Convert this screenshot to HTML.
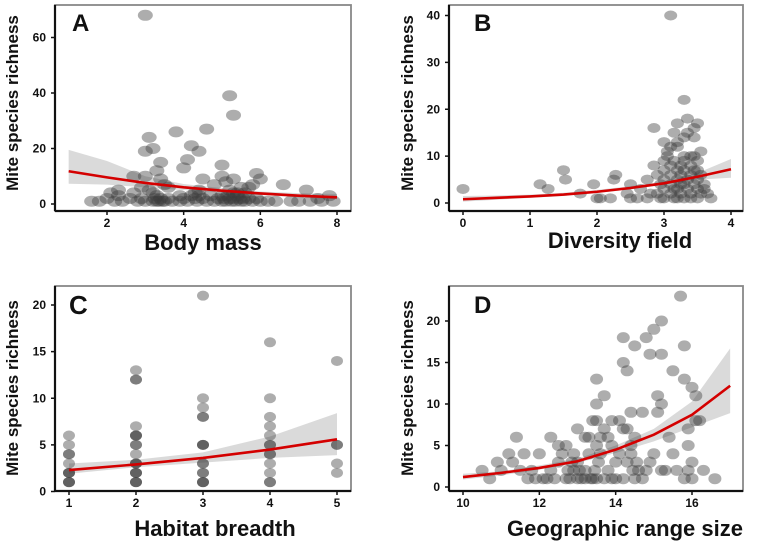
<!DOCTYPE html>
<html><head><meta charset="utf-8"><style>
body{margin:0;background:#fff;}
svg text{font-family:"Liberation Sans",sans-serif;font-weight:bold;fill:#111;}
</style></head><body>
<svg id="fig" width="760" height="542" viewBox="0 0 760 542" xmlns="http://www.w3.org/2000/svg"></svg>
<script>
// Panel A: body mass vs richness
const aPts=[[3,68],[5.2,39],[5.3,32],[4.6,27],[3.8,26],[3.1,24],[4.2,21],[3.2,20],[3,19],[4.4,19],[4.1,16],[3.4,15],[5,14],[4,13],[3.3,12],[5.9,11],[2.7,10],[3,10],[5,10],[5.3,9],[3.4,9],[4.5,9],[6,9],[5.8,7],[6.6,7],[2.9,6],[3.6,6],[4.8,7],[5.5,6],[2.3,5],[7.2,5],[4.4,5],[2.1,4],[2.7,4],[3.9,3],[4.3,4],[5.6,4],[7.8,3],[2.3,3],[5,3],[5.3,4],[3.1,5],[3.5,7],[5.1,8],[5.7,6],[1.6,1],[1.8,1],[2.0,2],[2.2,1],[2.4,1],[2.6,2],[2.8,1],[2.9,2],[3.0,1],[3.2,1],[3.25,2],[3.3,1],[3.35,1],[3.4,2],[3.45,1],[3.5,1],[3.6,2],[3.7,1],[3.9,1],[4.0,2],[4.1,1],[4.2,3],[4.3,2],[4.35,1],[4.5,2],[4.6,1],[4.7,3],[4.8,1],[4.9,2],[5.0,1],[5.05,2],[5.1,1],[5.15,3],[5.2,2],[5.25,1],[5.3,2],[5.35,1],[5.4,3],[5.45,2],[5.5,1],[5.55,2],[5.6,1],[5.7,2],[5.8,1],[5.9,2],[6.0,1],[6.2,1],[6.4,1],[6.8,1],[7.0,1],[7.3,1],[7.5,2],[7.6,1],[7.9,1],[3.3,3],[5.2,5],[5.4,4],[4.4,3],[3.2,4]];
const aFitX=[1,2,3,4,5,6,7,8];
const aFitY=[11.8,9.6,7.6,6.0,4.8,3.8,3.0,2.4];
const aLo=[7.3,7.0,6.0,5.0,4.1,3.2,2.4,1.7];
const aHi=[19.5,15.5,10.0,7.2,5.7,4.5,3.9,3.6];
const aXTicks=[2,4,6,8];
const aYTicks=[0,20,40,60];
// Panel B: diversity field
const bPts=[[0,3],[1.15,4],[1.27,3],[1.5,7],[1.53,5],[1.75,2],[1.95,4],[2,1],[2.05,1],[2.2,1],[2.25,5],[2.28,6],[2.5,4],[2.45,2],[2.5,1],[2.6,1],[2.65,3],[2.75,5],[2.8,2],[3.1,40],[3.3,22],[2.85,16],[3.2,17],[3.35,18],[3.45,16],[3.5,17],[3.15,15],[3.3,14],[3.45,14],[3,13],[3.1,12],[3.2,12],[3.55,11],[3.05,10],[3.3,10],[3.45,10],[3.7,1],[2.85,8],[2.9,6],[2.95,4],[2.9,2],[3.0,9],[3.0,7],[3.0,5],[3.0,3],[3.0,1],[3.1,8],[3.1,6],[3.1,4],[3.1,2],[3.15,9],[3.15,1],[3.2,7],[3.2,5],[3.2,3],[3.2,1],[3.25,8],[3.25,6],[3.25,2],[3.3,9],[3.3,7],[3.3,4],[3.3,1],[3.35,5],[3.35,3],[3.4,8],[3.4,6],[3.4,2],[3.4,1],[3.45,7],[3.45,4],[3.5,9],[3.5,5],[3.5,3],[3.5,1],[3.55,6],[3.55,2],[3.6,4],[3.6,3],[3.65,2],[3.05,11],[3.2,13],[3.35,15],[2.75,1],[2.95,1],[3.25,4],[3.15,3],[3.4,10],[3.5,7]];
const bFitX=[0,0.5,1,1.5,2,2.5,3,3.5,4];
const bFitY=[0.8,1.1,1.4,1.8,2.4,3.2,4.2,5.6,7.2];
const bLo=[0.3,0.7,1.1,1.5,2.1,2.9,3.9,5.0,5.4];
const bHi=[1.5,1.6,1.8,2.2,2.8,3.6,4.6,6.4,9.4];
const bXTicks=[0,1,2,3,4];
const bYTicks=[0,10,20,30,40];
// Panel C: habitat breadth
const cPts=[[1,1],[1,1],[1,1],[1,2],[1,2],[1,2],[1,3],[1,4],[1,4],[1,5],[1,6],[2,1],[2,1],[2,1],[2,2],[2,2],[2,2],[2,3],[2,3],[2,3],[2,4],[2,5],[2,5],[2,6],[2,6],[2,6],[2,7],[2,12],[2,12],[2,13],[3,1],[3,1],[3,1],[3,2],[3,2],[3,3],[3,3],[3,5],[3,5],[3,5],[3,8],[3,8],[3,9],[3,10],[3,21],[4,1],[4,1],[4,2],[4,3],[4,4],[4,4],[4,5],[4,5],[4,6],[4,7],[4,8],[4,10],[4,16],[5,2],[5,3],[5,5],[5,5],[5,14]];
const cFitX=[1,2,3,4,5];
const cFitY=[2.3,2.9,3.6,4.5,5.6];
const cLo=[1.9,2.6,3.1,3.6,3.9];
const cHi=[3.0,3.4,4.2,5.9,8.4];
const cXTicks=[1,2,3,4,5];
const cYTicks=[0,5,10,15,20];
// Panel D: geographic range size
const dPts=[[15.7,23],[15.2,20],[14.2,18],[14.8,18],[14.5,17],[15.0,19],[15.8,17],[14.9,16],[15.2,16],[14.2,15],[14.3,14],[15.5,14],[15.8,13],[13.5,13],[16.0,12],[13.7,11],[15.1,11],[16.1,11],[13.5,10],[15.2,10],[15.1,9],[14.4,9],[14.7,9],[13.9,8],[14.1,8],[13.4,8],[13.5,8],[16.1,8],[16.2,8],[15.9,7],[13.0,7],[13.7,7],[14.2,7],[11.4,6],[12.3,6],[13.2,6],[13.3,6],[13.8,6],[14.5,6],[15.4,6],[12.7,5],[13.5,5],[13.9,5],[14.4,5],[15.9,5],[10.5,2],[10.7,1],[10.9,3],[11.0,2],[11.2,4],[11.3,3],[11.5,2],[11.6,4],[11.7,1],[11.8,2],[11.9,1],[12.0,4],[12.1,1],[12.3,2],[12.4,1],[12.5,3],[12.6,4],[12.7,1],[12.75,2],[12.8,1],[12.85,3],[12.9,4],[13.0,1],[13.0,3],[13.05,2],[13.1,1],[13.2,2],[13.3,4],[13.35,1],[13.4,1],[13.45,2],[13.5,1],[13.55,3],[13.6,4],[13.7,1],[13.8,2],[13.9,1],[14.0,3],[14.0,1],[14.1,4],[14.2,1],[14.3,3],[14.4,4],[14.45,2],[14.5,1],[14.55,3],[14.6,2],[14.7,1],[14.8,2],[14.9,3],[15.0,4],[15.2,2],[15.3,2],[15.5,4],[15.6,2],[15.8,1],[15.9,2],[16.0,3],[16.0,1],[16.3,2],[16.6,1],[12.5,5],[12.9,2],[13.6,6],[12.2,1],[13.2,1],[14.3,7]];
const dFitX=[10,11,12,13,14,15,16,17];
const dFitY=[1.2,1.7,2.3,3.1,4.5,6.3,8.7,12.2];
const dLo=[0.9,1.4,2.1,2.9,4.1,5.5,7.2,8.9];
const dHi=[1.6,1.9,2.6,3.4,5.0,7.0,10.3,16.7];
const dXTicks=[10,12,14,16];
const dYTicks=[0,5,10,15,20];

const NS="http://www.w3.org/2000/svg";
const svg=document.getElementById('fig');
function mk(tag,attrs,parent){const e=document.createElementNS(NS,tag);for(const k in attrs)e.setAttribute(k,attrs[k]);(parent||svg).appendChild(e);return e;}
function lin(d0,d1,r0,r1){return v=>r0+(v-d0)*(r1-r0)/(d1-d0);}

function panel(cfg){
  const g=mk('g',{});
  
  
  const X=lin(cfg.xd[0],cfg.xd[1],cfg.xr[0],cfg.xr[1]);
  const Y=lin(cfg.yd[0],cfg.yd[1],cfg.yr[0],cfg.yr[1]);
  const {L,T,R,B}=cfg.box;
  const cid='clip'+cfg.id;
  const cp=mk('clipPath',{id:cid},g);mk('rect',{x:L,y:T,width:R-L,height:B-T},cp);
  const plot=mk('g',{'clip-path':'url(#'+cid+')'},g);
  let d='';
  cfg.fx.forEach((x,i)=>{d+=(i?'L':'M')+X(x)+','+Y(cfg.hi[i]);});
  for(let i=cfg.fx.length-1;i>=0;i--)d+='L'+X(cfg.fx[i])+','+Y(cfg.lo[i]);
  const band=mk('path',{d:d+'Z',fill:'#d4d4d4',opacity:0.85},plot);
  
  
  cfg.pts.forEach(p=>{
    const e=mk('ellipse',{cx:X(p[0]),cy:Y(p[1]),rx:cfg.rx,ry:cfg.ry,fill:'rgba(60,60,60,0.42)'},plot);
    
    
  });
  const ln=mk('polyline',{points:cfg.fx.map((x,i)=>X(x)+','+Y(cfg.fy[i])).join(' '),fill:'none',stroke:'#d40000','stroke-width':2.6},plot);
  
  
  mk('rect',{x:L,y:T,width:R-L,height:B-T,fill:'none',stroke:'#888','stroke-width':1.8},g);
  mk('line',{x1:L,y1:T,x2:L,y2:B,stroke:'#111','stroke-width':2.2},g);
  mk('line',{x1:L,y1:B,x2:R,y2:B,stroke:'#111','stroke-width':2.2},g);
  cfg.xt.forEach(t=>{
    mk('line',{x1:X(t),y1:B,x2:X(t),y2:B+4,stroke:'#111','stroke-width':1.5},g);
    const tx=mk('text',{x:X(t),y:B+16,'text-anchor':'middle','font-size':12},g);tx.textContent=t;
    
    
  });
  cfg.yt.forEach(t=>{
    mk('line',{x1:L-4,y1:Y(t),x2:L,y2:Y(t),stroke:'#111','stroke-width':1.5},g);
    const tx=mk('text',{x:L-9,y:Y(t)+4,'text-anchor':'end','font-size':12},g);tx.textContent=t;
    
    
  });
  const lab=mk('text',{x:cfg.lab[0],y:cfg.lab[1],'font-size':cfg.labSize},g);lab.textContent=cfg.id;
  
  
  const xt=mk('text',{x:cfg.xtitle[0],y:cfg.xtitle[1],'text-anchor':'middle','font-size':22},g);xt.textContent=cfg.xlabel;
  
  
  const yt=mk('text',{x:0,y:0,'text-anchor':'middle','font-size':17,transform:'translate('+cfg.ytitle[0]+','+cfg.ytitle[1]+') rotate(-90)'},g);yt.textContent='Mite species richness';
  
  
}

panel({id:'A',pts:aPts,fx:aFitX,fy:aFitY,lo:aLo,hi:aHi,xt:aXTicks,yt:aYTicks,xd:[2,8],xr:[107,337],yd:[0,60],yr:[204,37.5],box:{L:55,T:5,R:351,B:211},rx:7.5,ry:5.5,lab:[72,31],labSize:24,xtitle:[203,250],xlabel:'Body mass',ytitle:[18,103]});
panel({id:'B',pts:bPts,fx:bFitX,fy:bFitY,lo:bLo,hi:bHi,xt:bXTicks,yt:bYTicks,xd:[0,4],xr:[463,731],yd:[0,40],yr:[203,15.5],box:{L:449,T:5,R:743,B:211},rx:6.5,ry:5,lab:[474,31],labSize:24,xtitle:[620,248],xlabel:'Diversity field',ytitle:[413,103]});
panel({id:'C',pts:cPts,fx:cFitX,fy:cFitY,lo:cLo,hi:cHi,xt:cXTicks,yt:cYTicks,xd:[1,5],xr:[69,337],yd:[0,20],yr:[491.5,305],box:{L:55,T:286,R:351,B:491},rx:6,ry:5,lab:[69,314],labSize:26,xtitle:[215,536],xlabel:'Habitat breadth',ytitle:[18,388]});
panel({id:'D',pts:dPts,fx:dFitX,fy:dFitY,lo:dLo,hi:dHi,xt:dXTicks,yt:dYTicks,xd:[10,16],xr:[463,692],yd:[0,20],yr:[487,321],box:{L:449,T:286,R:743,B:491},rx:6.5,ry:5.5,lab:[474,313],labSize:24,xtitle:[625,536],xlabel:'Geographic range size',ytitle:[413,388]});
</script>
</body></html>
